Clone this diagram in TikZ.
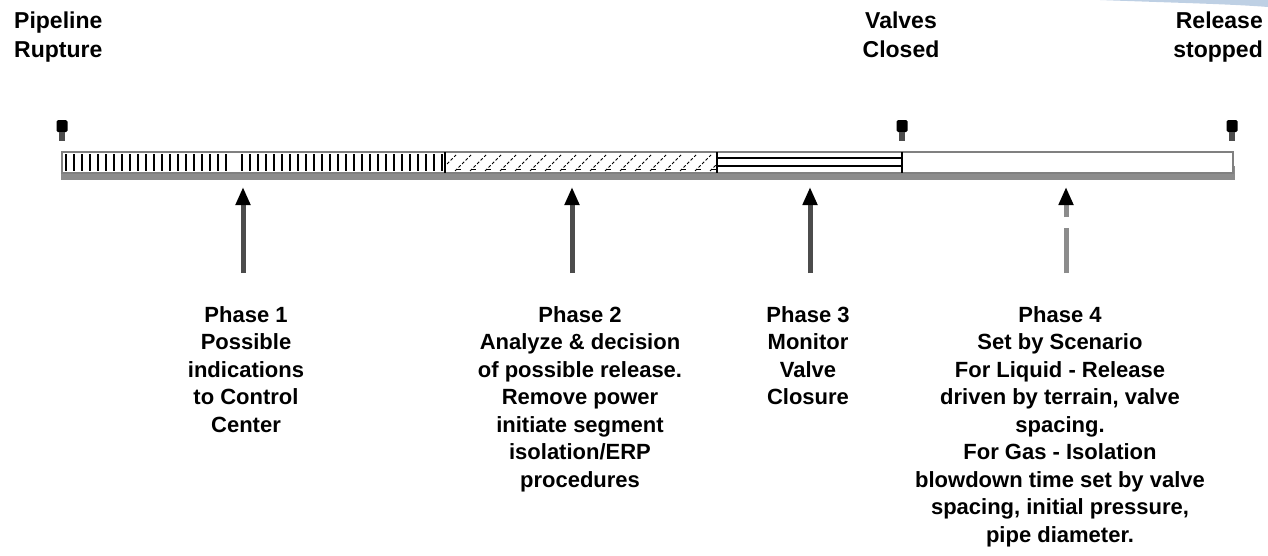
\documentclass[tikz,border=0pt]{standalone}
\usepackage{fontspec}
\setmainfont{Liberation Sans}
\usetikzlibrary{arrows.meta}
\definecolor{swoosh}{RGB}{190,208,228}
\begin{document}
\begin{tikzpicture}[x=1pt,y=-1pt,
  lbl/.style={font=\bfseries\fontsize{23}{28.5}\selectfont, align=center, inner sep=0pt, anchor=north},
  plbl/.style={lbl, font=\bfseries\fontsize{22}{27.5}\selectfont},
  uparrow/.style={line width=5pt, draw=black!70, -{Triangle[length=18pt,width=14pt,color=black,fill=black]}},
  faintarrow/.style={line width=5pt, draw=black!45},
  tack/.pic={\fill[black, rounded corners=1.5pt] (-5.5,-11) rectangle (5.5,1);
             \fill[black!70] (-3,1) rectangle (3,10);},
  hatchline/.style={line width=1.3pt, black}
]
\useasboundingbox (0,0) rectangle (1268,555);
% decorative swoosh top right
\fill[swoosh] (1100,0) .. controls (1180,3) and (1230,4) .. (1268,7) -- (1268,0) -- cycle;

% labels at top
\node[lbl, anchor=north west, align=left] (rupt) at (14,12) {Pipeline\\Rupture};
\node[lbl] (vc) at (901,12) {Valves\\Closed};
\node[lbl, anchor=north east, align=right] (rs) at (1263,12) {Release\\stopped};

% tacks
\pic at (62,131) {tack};
\pic at (902,131) {tack};
\pic at (1232,131) {tack};

% bar
\fill[black!45] (61,166) rectangle (1235,180);
\draw[draw=black!50, line width=2pt, fill=white] (62,152) rectangle (1233,173);
\foreach \x in {66,74,...,226} \draw[hatchline] (\x,154) -- (\x,171);
\foreach \x in {242,250,...,442} \draw[hatchline] (\x,154) -- (\x,171);
\begin{scope}
  \clip (446,153) rectangle (716,172);
  \foreach \x in {440,455,...,720} \draw[line width=0.9pt, dash pattern=on 3pt off 2pt] (\x,171) -- (\x+16,155);
  \foreach \x in {440,455,...,720} \draw[line width=0.9pt] (\x+2,169) -- (\x+6,169);
\end{scope}
\draw[line width=1.2pt] (717,158) -- (902,158) (717,166) -- (902,166);
\draw[line width=1.3pt] (445,152) -- (445,173) (717,152) -- (717,173) (902,152) -- (902,173);

% phase texts
\node[plbl] (ph1) at (246,306) {Phase 1\\Possible\\indications\\to Control\\Center};
\node[plbl] (ph2) at (580,306) {Phase 2\\Analyze \& decision\\of possible release.\\Remove power\\initiate segment\\isolation/ERP\\procedures};
\node[plbl] (ph3) at (808,306) {Phase 3\\Monitor\\Valve\\Closure};
\node[plbl] (ph4) at (1060,306) {Phase 4\\Set by Scenario\\For Liquid - Release\\driven by terrain, valve\\spacing.\\For Gas - Isolation\\blowdown time set by valve\\spacing, initial pressure,\\pipe diameter.};

% arrows
\coordinate (a1) at (243,273); \coordinate (b1) at (243,187);
\coordinate (a2) at (572,273); \coordinate (b2) at (572,187);
\coordinate (a3) at (810,273); \coordinate (b3) at (810,187);
\coordinate (a4) at (1066,273); \coordinate (m4) at (1066,228);
\coordinate (c4) at (1066,217); \coordinate (b4) at (1066,187);
\draw[uparrow] (a1) -- (b1);
\draw[uparrow] (a2) -- (b2);
\draw[uparrow] (a3) -- (b3);
\draw[faintarrow] (a4) -- (m4);
\draw[uparrow, draw=black!45] (c4) -- (b4);
\end{tikzpicture}
\end{document}
